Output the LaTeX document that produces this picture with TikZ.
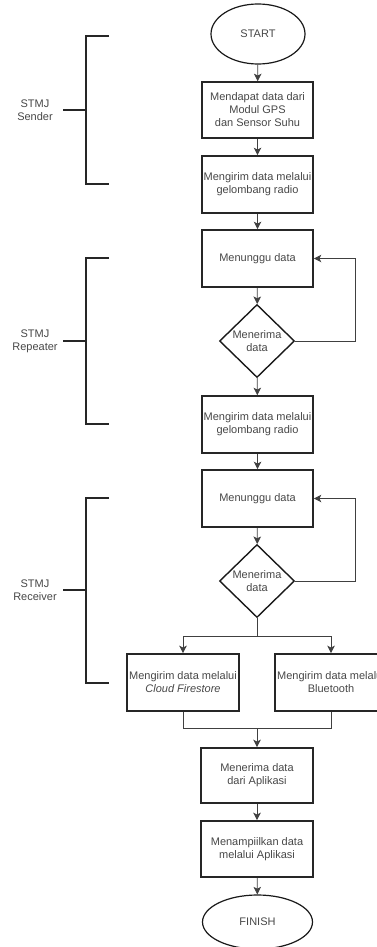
\documentclass[tikz,border=0pt]{standalone}
\usepackage{fontspec}
\setmainfont{Liberation Sans}
\usetikzlibrary{shapes.geometric,arrows.meta}
\begin{document}
\begin{tikzpicture}[x=1pt,y=-1pt,
  txt/.style={font=\fontsize{11}{13}\selectfont, text=black!72, align=center, inner sep=0pt},
  box/.style={txt, draw=black!85, line width=1.6pt, rectangle, minimum width=111pt, minimum height=56pt},
  term/.style={txt, draw=black!90, line width=1.2pt, ellipse, inner sep=0pt},
  dec/.style={txt, draw=black!90, line width=1.4pt, diamond, inner sep=0pt, minimum width=75pt, minimum height=73pt},
  conn/.style={draw=black!75, line width=0.8pt},
  arr/.style={conn, -{Stealth[length=7.5pt,width=7.5pt,inset=1.8pt]}},
  brk/.style={draw=black!85, line width=1.5pt},
  lbl/.style={txt}
]
\useasboundingbox (0,0) rectangle (377,947);
\clip (0,0) rectangle (377,947);

% nodes
\node[term, minimum width=94pt, minimum height=60pt] (start) at (258,34) {START};
\node[box] (b1) at (257.5,110) {Mendapat data dari\\Modul GPS\\dan Sensor Suhu};
\node[box, minimum height=57pt] (b2) at (257.5,184.5) {Mengirim data melalui\\gelombang radio};
\node[box, minimum height=57pt] (w1) at (257.5,258.5) {Menunggu data};
\node[dec] (d1) at (257,341) {Menerima\\data};
\node[box, minimum height=57pt] (b3) at (257.5,424.5) {Mengirim data melalui\\gelombang radio};
\node[box, minimum height=57pt] (w2) at (257.5,498.5) {Menunggu data};
\node[dec] (d2) at (257,581) {Menerima\\data};
\node[box, minimum width=112pt, minimum height=57pt] (cf) at (183,682.5) {Mengirim data melalui\\\textit{Cloud Firestore}};
\node[box, minimum width=112pt, minimum height=57pt] (bt) at (331,682.5) {Mengirim data melalui\\Bluetooth};
\node[box, minimum width=112pt, minimum height=55pt] (r1) at (257,775.5) {Menerima data\\dari Aplikasi};
\node[box, minimum width=112pt, minimum height=56pt] (r2) at (257,849) {Menampiilkan data\\melalui Aplikasi};
\node[term, minimum width=110pt, minimum height=54pt] (fin) at (257.5,922) {FINISH};

\coordinate (split) at (257,636);
\coordinate (merge) at (257,728);
\coordinate (l1) at (355,341);
\coordinate (l2) at (355,581);

% connectors
\draw[arr] (start) -- (b1);
\draw[arr] (b1) -- (b2);
\draw[arr] (b2) -- (w1);
\draw[arr] (w1) -- (d1);
\draw[arr] (d1) -- (b3);
\draw[arr] (d1.east) -- (l1) |- (w1.east);
\draw[arr] (b3) -- (w2);
\draw[arr] (w2) -- (d2);
\draw[arr] (d2.east) -- (l2) |- (w2.east);
\draw[conn] (d2.south) -- (split);
\draw[arr] (split) -| (cf.north);
\draw[arr] (split) -| (bt.north);
\draw[conn] (cf.south) |- (merge);
\draw[conn] (bt.south) |- (merge);
\draw[arr] (merge) -- (r1.north);
\draw[arr] (r1) -- (r2);
\draw[arr] (r2) -- (fin);

% brackets
\coordinate (s1) at (109,36);
\coordinate (s2) at (109,184);
\draw[brk] (s1) -- (86,36) -- (86,184) -- (s2);
\draw[brk] (63,110) -- (86,110);
\node[lbl] (ls) at (35,110) {STMJ\\Sender};

\draw[brk] (109,258) -- (86,258) -- (86,424) -- (109,424);
\draw[brk] (63,341) -- (86,341);
\node[lbl] (lr) at (35,341) {STMJ\\Repeater};

\draw[brk] (109,498) -- (86,498) -- (86,683) -- (109,683);
\draw[brk] (63,590) -- (86,590);
\node[lbl] (lc) at (35,590) {STMJ\\Receiver};
\end{tikzpicture}
\end{document}
